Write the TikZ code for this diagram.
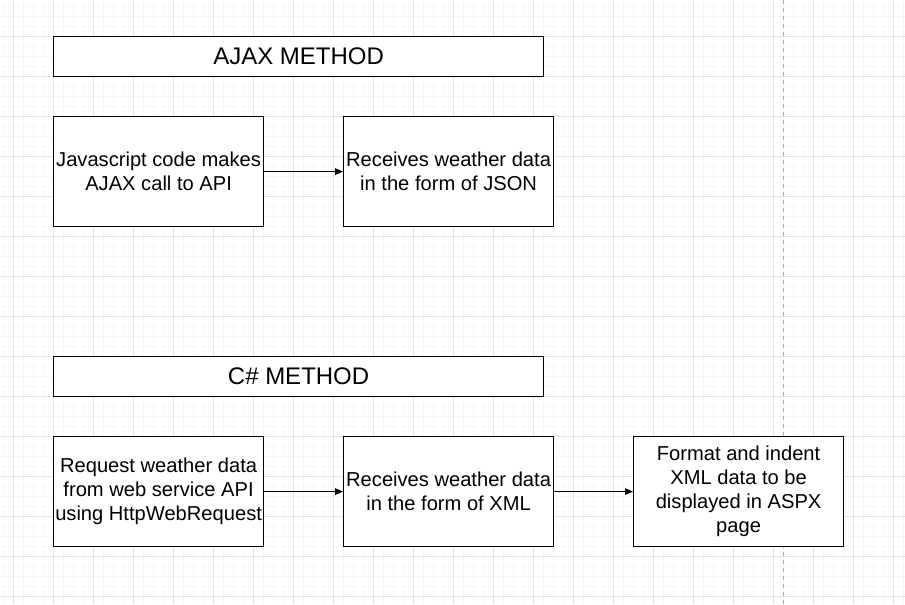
\documentclass[tikz,border=0pt]{standalone}
\usepackage{fontspec}
\setmainfont{Liberation Sans}
\usetikzlibrary{arrows.meta}
\definecolor{minorgrid}{HTML}{F6F6F6}
\definecolor{majorgrid}{HTML}{E2E2E2}
\definecolor{dashgray}{HTML}{B0B0B0}
\tikzset{
  box/.style={draw=black, line width=0.9pt, fill=white, inner sep=0pt, anchor=north west,
    align=center, font=\fontsize{15.1}{18}\selectfont},
  titlebox/.style={box, font=\fontsize{18}{20}\selectfont},
  conn/.style={-{Triangle[length=6pt,width=5pt]}, line width=0.75pt},
}
\begin{document}
\begin{tikzpicture}[x=0.75pt,y=-0.75pt]
\useasboundingbox (0,0) rectangle (905,604);
\fill[white] (0,0) rectangle (905,604);
\foreach \x in {3,13,...,903} \draw[minorgrid,line width=0.5pt] (\x,0) -- (\x,604);
\foreach \y in {6,16,...,596} \draw[minorgrid,line width=0.5pt] (0,\y) -- (905,\y);
\foreach \x in {13,53,...,893} \draw[majorgrid,line width=0.75pt] (\x,0) -- (\x,604);
\foreach \y in {36,76,...,596} \draw[majorgrid,line width=0.75pt] (0,\y) -- (905,\y);
\draw[dashgray,line width=0.6pt,dash pattern=on 3pt off 3pt] (783,0) -- (783,604);

\node[titlebox, minimum width=490*0.75pt, minimum height=40*0.75pt] (ajax) at (53,36) {AJAX METHOD};
\node[box, minimum width=210*0.75pt, minimum height=110*0.75pt] (js) at (53,116) {Javascript code makes\\AJAX call to API};
\node[box, minimum width=210*0.75pt, minimum height=110*0.75pt] (json) at (343,116) {Receives weather data\\in the form of JSON};
\node[titlebox, minimum width=490*0.75pt, minimum height=40*0.75pt] (csharp) at (53,356) {C\# METHOD};
\node[box, minimum width=210*0.75pt, minimum height=110*0.75pt] (req) at (53,436) {Request weather data\\from web service API\\using HttpWebRequest};
\node[box, minimum width=210*0.75pt, minimum height=110*0.75pt] (xml) at (343,436) {Receives weather data\\in the form of XML};
\node[box, minimum width=210*0.75pt, minimum height=110*0.75pt] (fmt) at (633,436) {Format and indent\\XML data to be\\displayed in ASPX\\page};

\draw[conn] (js.east) -- (json.west);
\draw[conn] (req.east) -- (xml.west);
\draw[conn] (xml.east) -- (fmt.west);
\end{tikzpicture}
\end{document}
